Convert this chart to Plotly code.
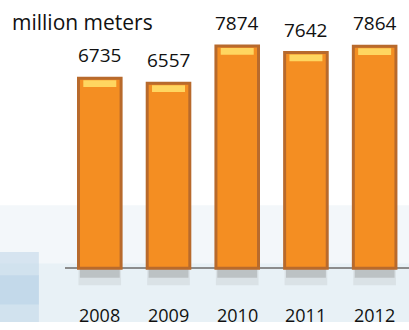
import plotly.graph_objects as go

years = ["2008", "2009", "2010", "2011", "2012"]
values = [6735, 6557, 7874, 7642, 7864]
unit_label = "million meters"

W, H = 409, 330
FONT = "Open Sans"

fig = go.Figure()

# soft blue background decorations (paper coords)
bg_shapes = [
    dict(x0=0, x1=1, y0=0, y1=0.40, color="rgba(228,238,245,0.45)"),
    dict(x0=0, x1=1, y0=0, y1=0.20, color="rgba(220,233,242,0.45)"),
    dict(x0=0, x1=0.095, y0=0, y1=0.24, color="rgba(190,214,232,0.55)"),
    dict(x0=0, x1=0.095, y0=0.06, y1=0.16, color="rgba(170,200,225,0.35)"),
]
for s in bg_shapes:
    fig.add_shape(type="rect", xref="paper", yref="paper", x0=s["x0"], x1=s["x1"],
                  y0=s["y0"], y1=s["y1"], fillcolor=s["color"], line_width=0, layer="below")

# shadow below baseline
fig.add_trace(go.Bar(x=years, y=[-600] * len(values),
                     marker=dict(color="rgba(140,140,140,0.15)", line_width=0),
                     width=0.62, hoverinfo="skip"))
fig.add_trace(go.Bar(x=years, y=[-330] * len(values),
                     marker=dict(color="rgba(120,120,120,0.30)", line_width=0),
                     width=0.58, hoverinfo="skip"))

# main bars
fig.add_trace(go.Bar(
    x=years, y=values,
    marker=dict(color="#F48E22", line=dict(color="#B86A2C", width=3)),
    width=0.62, hoverinfo="skip",
))
# top highlight cap derived from values
fig.add_trace(go.Bar(
    x=years, y=[240] * len(values), base=[v - 310 for v in values],
    marker=dict(color="rgba(255,218,100,0.95)", line_width=0),
    width=0.48, hoverinfo="skip",
))

for i, v in enumerate(values):
    fig.add_annotation(x=i, y=v, xref="x", yref="y", text=str(v), showarrow=False,
                       yanchor="middle", yshift=23,
                       font=dict(family=FONT, size=19, color="#111"))
for i, yr in enumerate(years):
    fig.add_annotation(x=i, y=0, xref="x", yref="y", text=yr, showarrow=False,
                       yanchor="middle", yshift=-47,
                       font=dict(family=FONT, size=18, color="#111"))

fig.add_annotation(xref="paper", yref="paper", x=0.025, y=1.0, xanchor="left", yanchor="bottom",
                   text=unit_label, showarrow=False, yshift=-8,
                   font=dict(family=FONT, size=21, color="#111"))

fig.update_layout(
    width=W, height=H, margin=dict(l=0, r=0, t=30, b=8),
    paper_bgcolor="white", plot_bgcolor="rgba(0,0,0,0)",
    showlegend=False, barmode="overlay",
    xaxis=dict(type="category", domain=[0.16, 1.0], range=[-0.5, 4.5], visible=True,
               showline=False, showticklabels=False, ticks="", showgrid=False, zeroline=False),
    yaxis=dict(range=[-1900, 8440], showticklabels=False, ticks="", showgrid=False,
               zeroline=True, zerolinecolor="#8C8C8C", zerolinewidth=2),
)

fig.write_html("out.html")
